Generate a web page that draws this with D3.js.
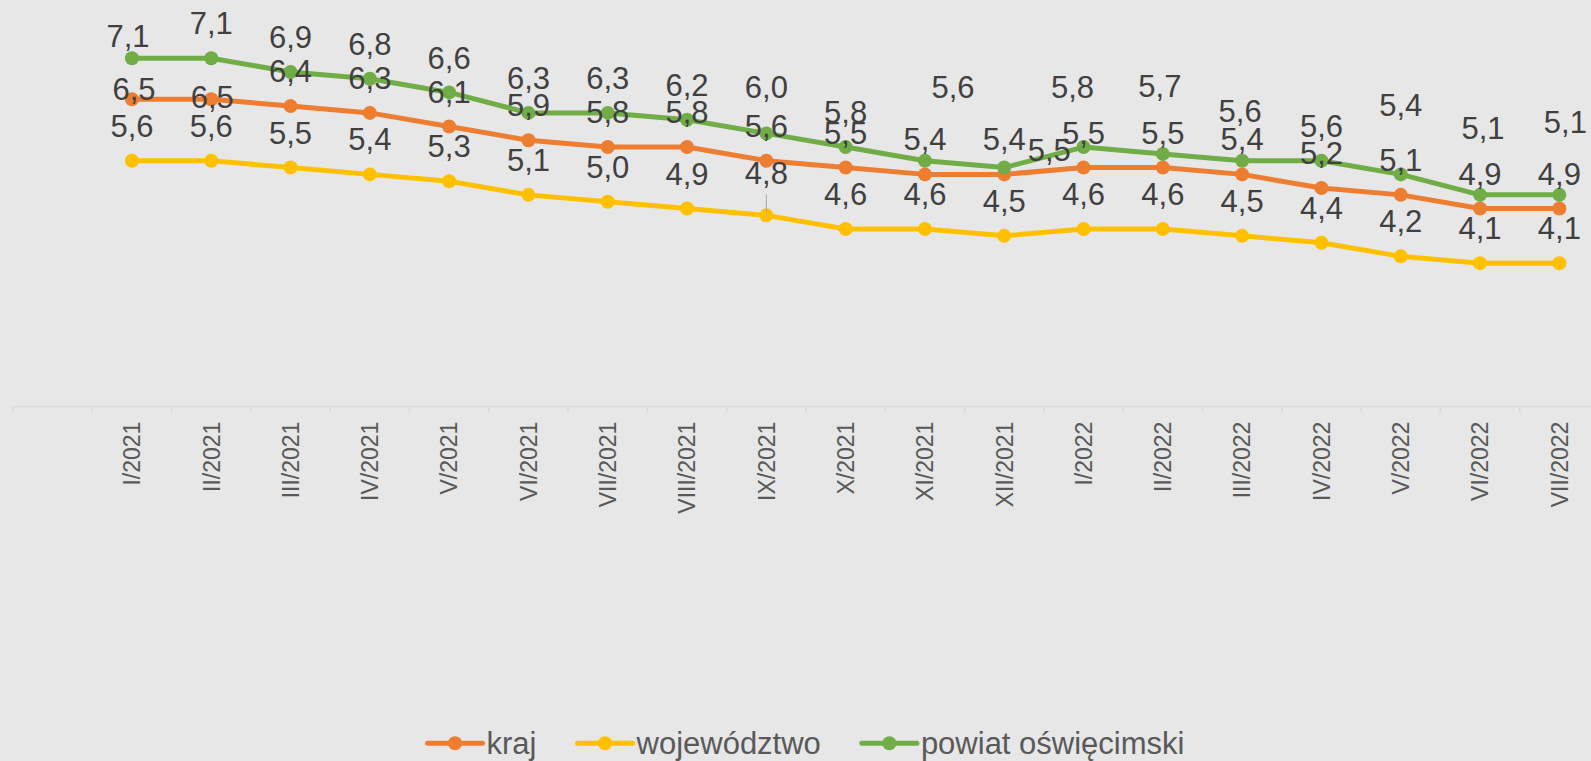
<!DOCTYPE html>
<html>
<head>
<meta charset="utf-8">
<script src="https://cdn.jsdelivr.net/npm/d3@7"></script>
<style>
  body { margin: 0; background: #e7e7e7; }
  svg { display: block; font-family: 'Liberation Sans', Arial, sans-serif; }
</style>
</head>
<body>
<svg id="chart"></svg>
<script>
const months = ['I/2021', 'II/2021', 'III/2021', 'IV/2021', 'V/2021', 'VI/2021', 'VII/2021',
  'VIII/2021', 'IX/2021', 'X/2021', 'XI/2021', 'XII/2021', 'I/2022', 'II/2022', 'III/2022',
  'IV/2022', 'V/2022', 'VI/2022', 'VII/2022'];
const kraj = [6.5, 6.5, 6.4, 6.3, 6.1, 5.9, 5.8, 5.8, 5.6, 5.5, 5.4, 5.4, 5.5, 5.5, 5.4, 5.2, 5.1, 4.9, 4.9];
const wojewodztwo = [5.6, 5.6, 5.5, 5.4, 5.3, 5.1, 5.0, 4.9, 4.8, 4.6, 4.6, 4.5, 4.6, 4.6, 4.5, 4.4, 4.2, 4.1, 4.1];
const powiat = [7.1, 7.1, 6.9, 6.8, 6.6, 6.3, 6.3, 6.2, 6.0, 5.8, 5.6, 5.5, 5.8, 5.7, 5.6, 5.6, 5.4, 5.1, 5.1];

const series = [
  { name: 'kraj', values: kraj, color: '#ed7d31' },
  { name: 'województwo', values: wojewodztwo, color: '#ffc000' },
  { name: 'powiat oświęcimski', values: powiat, color: '#70ad47' }
];

// labels moved by hand in the original (series index : point index -> [dx, dy])
const labelNudge = {
  '0:0': [2, 25], '0:1': [1, 33],
  '1:8': [0, -7],
  '2:0': [-4, 13], '2:8': [0, -12], '2:10': [28, -39], '2:11': [45, 17],
  '2:12': [-11, -25], '2:13': [-3, -33], '2:14': [-2, -15], '2:16': [0, -34],
  '2:17': [3, -32], '2:18': [6, -38]
};

const width = 1591;
const height = 761;
const fmt = v => d3.format('.1f')(v).replace('.', ',');

const svg = d3.select('#chart')
  .attr('width', width)
  .attr('height', height);

const x = d3.scaleBand()
  .domain(months)
  .range([92.3, 92.3 + months.length * 79.3]);

const y = d3.scaleLinear()
  .domain([2, 8])
  .range([406.6, -3.2]);

const cx = d => x(d) + x.bandwidth() / 2;
const axisY = y(2);

// axis line + boundary ticks
svg.append('line')
  .attr('x1', x.range()[0] - x.step())
  .attr('x2', width)
  .attr('y1', axisY)
  .attr('y2', axisY)
  .attr('stroke', '#d9d9d9')
  .attr('stroke-width', 1.5);

svg.append('g')
  .selectAll('line')
  .data([x.range()[0] - x.step()].concat(months.map(m => x(m))))
  .enter()
  .append('line')
  .attr('x1', d => d)
  .attr('x2', d => d)
  .attr('y1', axisY)
  .attr('y2', axisY + 6)
  .attr('stroke', '#d9d9d9')
  .attr('stroke-width', 1.5);

const xAxis = d3.axisBottom(x).tickSize(0);
svg.append('g')
  .attr('transform', `translate(0, ${axisY})`)
  .call(xAxis)
  .call(g => g.select('.domain').remove())
  .selectAll('text')
  .attr('transform', 'rotate(-90)')
  .attr('x', -15)
  .attr('y', 0)
  .attr('dy', '0.36em')
  .attr('text-anchor', 'end')
  .attr('font-size', 23)
  .attr('font-family', "'Liberation Sans', Arial, sans-serif")
  .attr('fill', '#595959');

const line = d3.line()
  .x((d, i) => cx(months[i]))
  .y(d => y(d));

series.forEach(s => {
  svg.append('path')
    .datum(s.values)
    .attr('fill', 'none')
    .attr('stroke', s.color)
    .attr('stroke-width', 5)
    .attr('stroke-linejoin', 'round')
    .attr('d', line);

  svg.append('g')
    .selectAll('circle')
    .data(s.values)
    .enter()
    .append('circle')
    .attr('cx', (d, i) => cx(months[i]))
    .attr('cy', d => y(d))
    .attr('r', 7)
    .attr('fill', s.color);
});

// leader line for the moved IX/2021 label of województwo
svg.append('line')
  .attr('x1', cx(months[8]))
  .attr('x2', cx(months[8]))
  .attr('y1', y(wojewodztwo[8]) - 21)
  .attr('y2', y(wojewodztwo[8]) - 2)
  .attr('stroke', '#a6a6a6')
  .attr('stroke-width', 1);

series.forEach((s, si) => {
  svg.append('g')
    .selectAll('text')
    .data(s.values)
    .enter()
    .append('text')
    .attr('x', (d, i) => cx(months[i]) + (labelNudge[`${si}:${i}`] || [0, 0])[0])
    .attr('y', (d, i) => y(d) - 23.9 + (labelNudge[`${si}:${i}`] || [0, 0])[1])
    .attr('text-anchor', 'middle')
    .attr('font-size', 31)
    .attr('fill', '#404040')
    .text(d => fmt(d));
});

// legend
const legend = svg.append('g')
  .attr('transform', 'translate(0, 743.3)');

const items = legend.selectAll('g')
  .data(series)
  .enter()
  .append('g');

items.append('line')
  .attr('x1', 0)
  .attr('x2', 55)
  .attr('stroke', d => d.color)
  .attr('stroke-width', 5)
  .attr('stroke-linecap', 'round');

items.append('circle')
  .attr('cx', 27.5)
  .attr('r', 7)
  .attr('fill', d => d.color);

items.append('text')
  .attr('x', 59)
  .attr('y', 11)
  .attr('font-size', 31)
  .attr('fill', '#595959')
  .text(d => d.name);

let offset = 0;
const widths = [];
items.each(function () {
  widths.push(this.getBBox().width);
});
const total = d3.sum(widths) + 41 * (widths.length - 1);
offset = 806 - total / 2;
items.attr('transform', (d, i) => {
  const t = `translate(${offset}, 0)`;
  offset += widths[i] + 41;
  return t;
});
</script>
</body>
</html>
